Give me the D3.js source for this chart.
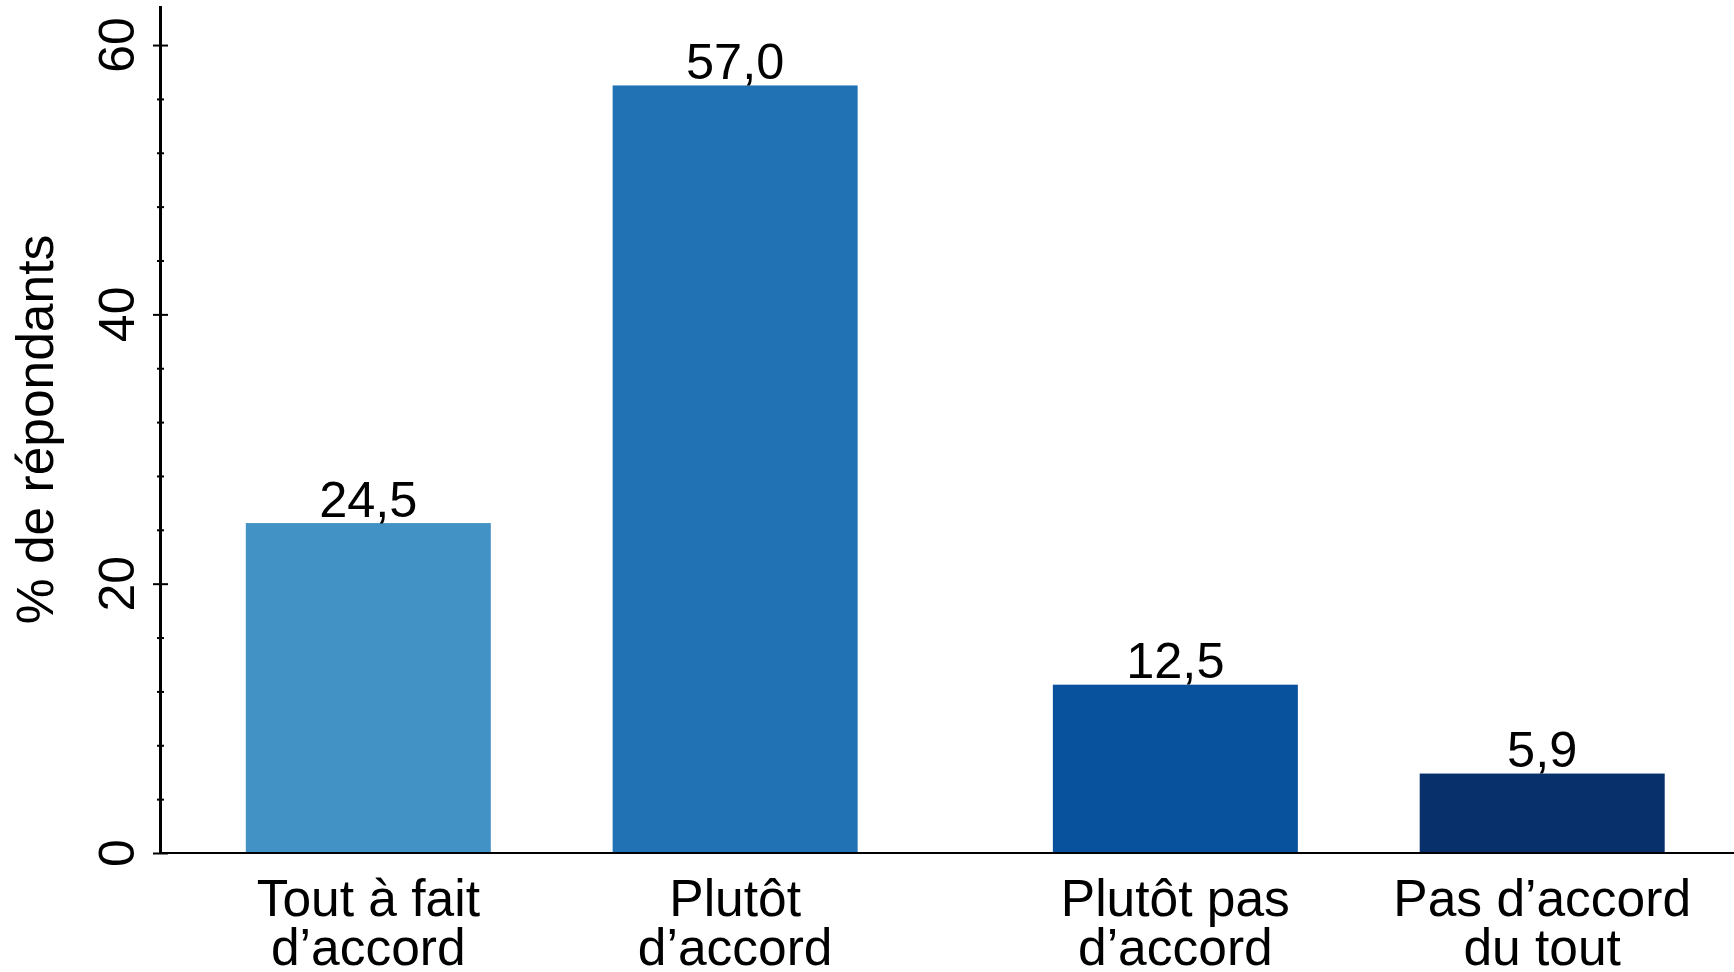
<!DOCTYPE html>
<html>
<head>
<meta charset="utf-8">
<script src="https://cdn.jsdelivr.net/npm/d3@7"></script>
<style>
  html, body { margin: 0; padding: 0; background: #fff; }
  svg { display: block; }
  text { font-family: "Liberation Sans", Arial, Helvetica, sans-serif; fill: #000; }
</style>
</head>
<body>
<svg id="chart" width="1734" height="972"></svg>
<script>
// ---- data ----
const categoryLine1 = ["Tout à fait", "Plutôt", "Plutôt pas", "Pas d’accord"];
const categoryLine2 = ["d’accord", "d’accord", "d’accord", "du tout"];
const values = [24.5, 57.0, 12.5, 5.9];
const valueLabels = ["24,5", "57,0", "12,5", "5,9"];
const groups = [0, 0, 1, 1];          // agree / disagree group
const colors = ["#4292c6", "#2171b5", "#08519c", "#08306b"];
const yTicks = [0, 20, 40, 60];
const yMinorTicks = [4, 8, 12, 16, 24, 28, 32, 36, 44, 48, 52, 56];
const yTitle = "% de répondants";

// ---- layout ----
const W = 1734, H = 972;
const axisX = 160.5, baseY = 853, topY = 6;
const svg = d3.select("#chart");

const y = d3.scaleLinear().domain([0, 62.9]).range([baseY, topY]);
// slot position: index plus extra gap between groups
const slot = values.map((v, i) => i + groups[i] * 0.2);
const x = d3.scaleLinear().domain([0, 3.2]).range([368.3, 1542.2]);
const barW = 245;

// bars
svg.append("g").selectAll("rect").data(values).join("rect")
  .attr("x", (d, i) => x(slot[i]) - barW / 2)
  .attr("width", barW)
  .attr("y", d => y(d))
  .attr("height", d => y(0) - y(d))
  .attr("fill", (d, i) => colors[i]);

// value labels
svg.append("g").selectAll("text").data(values).join("text")
  .attr("x", (d, i) => x(slot[i]))
  .attr("y", d => y(d) - 6.5)
  .attr("text-anchor", "middle")
  .style("font-size", "50.5px")
  .text((d, i) => valueLabels[i]);

// x axis line
svg.append("line")
  .attr("x1", axisX).attr("x2", W)
  .attr("y1", y(0)).attr("y2", y(0))
  .attr("stroke", "#000").attr("stroke-width", 2);

// y axis (major ticks crossing the axis)
const yAxis = d3.axisLeft(y).tickValues(yTicks).tickSize(7.5).tickPadding(0).tickFormat(d3.format("d"));
const gy = svg.append("g").attr("transform", `translate(${axisX},0)`).call(yAxis);
gy.select(".domain").remove();
gy.selectAll(".tick line").attr("x2", 7.5).attr("x1", -7.5).attr("stroke", "#000").attr("stroke-width", 2);
gy.selectAll(".tick text").remove();
// minor ticks
const yAxisMinor = d3.axisLeft(y).tickValues(yMinorTicks).tickSize(3.5).tickFormat("");
const gm = svg.append("g").attr("transform", `translate(${axisX},0)`).call(yAxisMinor);
gm.select(".domain").remove();
gm.selectAll(".tick line").attr("x1", -3.5).attr("x2", 3.5).attr("stroke", "#000").attr("stroke-width", 2);

// axis line
svg.append("line")
  .attr("x1", axisX).attr("x2", axisX)
  .attr("y1", topY).attr("y2", y(0) + 1)
  .attr("stroke", "#000").attr("stroke-width", 3);

// rotated tick labels
svg.append("g").selectAll("text").data(yTicks).join("text")
  .attr("transform", d => `translate(134,${y(d)}) rotate(-90)`)
  .attr("text-anchor", "middle")
  .style("font-size", "50px")
  .text(d => d3.format("d")(d));

// y title
svg.append("text")
  .attr("transform", `translate(53,${(topY + baseY) / 2}) rotate(-90)`)
  .attr("text-anchor", "middle")
  .style("font-size", "51.5px")
  .text(yTitle);

// category labels (two lines)
svg.append("g").selectAll("text").data(categoryLine1).join("text")
  .attr("x", (d, i) => x(slot[i]))
  .attr("y", 916)
  .attr("text-anchor", "middle")
  .style("font-size", "51.5px")
  .text(d => d);
svg.append("g").selectAll("text").data(categoryLine2).join("text")
  .attr("x", (d, i) => x(slot[i]))
  .attr("y", 965)
  .attr("text-anchor", "middle")
  .style("font-size", "51.5px")
  .text(d => d);
</script>
</body>
</html>
